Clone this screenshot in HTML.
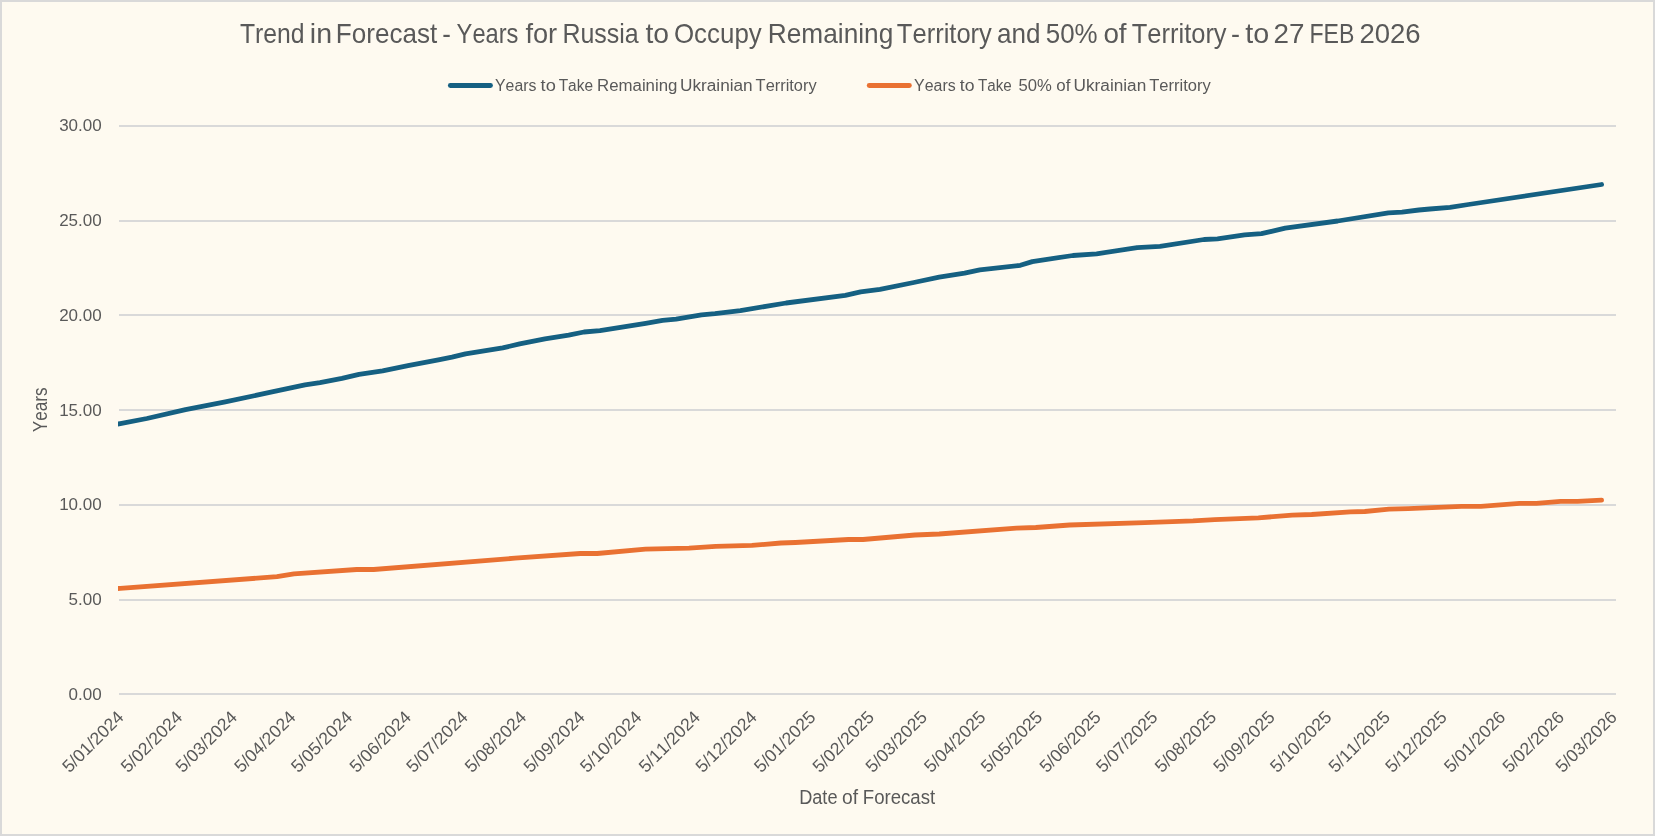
<!DOCTYPE html>
<html><head><meta charset="utf-8"><title>Trend in Forecast</title>
<style>
html,body{margin:0;padding:0;background:#fefaf0;}
body{width:1655px;height:836px;overflow:hidden;font-family:"Liberation Sans",sans-serif;}
svg{display:block;will-change:transform;}
text{font-family:"Liberation Sans",sans-serif;fill:#595959;font-kerning:none;}
</style></head><body>
<svg width="1655" height="836" viewBox="0 0 1655 836">
<rect x="0" y="0" width="1655" height="836" fill="#d9d9d9"/>
<rect x="2" y="2" width="1651" height="832" fill="#fefaf0"/>

<g class="title">
<text x="239.88" y="43.0" font-size="27.4" textLength="64.57" lengthAdjust="spacingAndGlyphs">Trend</text>
<text x="309.89" y="43.0" font-size="27.4" textLength="22.24" lengthAdjust="spacingAndGlyphs">in</text>
<text x="335.87" y="43.0" font-size="27.4" textLength="101.40" lengthAdjust="spacingAndGlyphs">Forecast</text>
<text x="442.17" y="43.0" font-size="27.4" textLength="8.61" lengthAdjust="spacingAndGlyphs">-</text>
<text x="456.60" y="43.0" font-size="27.4" textLength="61.85" lengthAdjust="spacingAndGlyphs">Years</text>
<text x="525.45" y="43.0" font-size="27.4" textLength="31.72" lengthAdjust="spacingAndGlyphs">for</text>
<text x="562.43" y="43.0" font-size="27.4" textLength="76.26" lengthAdjust="spacingAndGlyphs">Russia</text>
<text x="645.53" y="43.0" font-size="27.4" textLength="23.57" lengthAdjust="spacingAndGlyphs">to</text>
<text x="673.97" y="43.0" font-size="27.4" textLength="87.82" lengthAdjust="spacingAndGlyphs">Occupy</text>
<text x="767.83" y="43.0" font-size="27.4" textLength="125.43" lengthAdjust="spacingAndGlyphs">Remaining</text>
<text x="896.86" y="43.0" font-size="27.4" textLength="95.02" lengthAdjust="spacingAndGlyphs">Territory</text>
<text x="997.07" y="43.0" font-size="27.4" textLength="43.49" lengthAdjust="spacingAndGlyphs">and</text>
<text x="1045.74" y="43.0" font-size="27.4" textLength="51.91" lengthAdjust="spacingAndGlyphs">50%</text>
<text x="1103.38" y="43.0" font-size="27.4" textLength="23.20" lengthAdjust="spacingAndGlyphs">of</text>
<text x="1131.80" y="43.0" font-size="27.4" textLength="94.81" lengthAdjust="spacingAndGlyphs">Territory</text>
<text x="1230.99" y="43.0" font-size="27.4" textLength="8.97" lengthAdjust="spacingAndGlyphs">-</text>
<text x="1245.20" y="43.0" font-size="27.4" textLength="23.93" lengthAdjust="spacingAndGlyphs">to</text>
<text x="1273.63" y="43.0" font-size="27.4" textLength="30.93" lengthAdjust="spacingAndGlyphs">27</text>
<text x="1309.43" y="43.0" font-size="27.4" textLength="44.97" lengthAdjust="spacingAndGlyphs">FEB</text>
<text x="1359.41" y="43.0" font-size="27.4" textLength="61.22" lengthAdjust="spacingAndGlyphs">2026</text>
</g>
<g class="leg1">
<text x="495.06" y="90.7" font-size="15.6" textLength="41.36" lengthAdjust="spacingAndGlyphs">Years</text>
<text x="540.63" y="90.7" font-size="15.6" textLength="15.23" lengthAdjust="spacingAndGlyphs">to</text>
<text x="558.70" y="90.7" font-size="15.6" textLength="34.35" lengthAdjust="spacingAndGlyphs">Take</text>
<text x="597.00" y="90.7" font-size="15.6" textLength="80.44" lengthAdjust="spacingAndGlyphs">Remaining</text>
<text x="679.94" y="90.7" font-size="15.6" textLength="72.76" lengthAdjust="spacingAndGlyphs">Ukrainian</text>
<text x="755.63" y="90.7" font-size="15.6" textLength="61.00" lengthAdjust="spacingAndGlyphs">Territory</text>
</g>
<g class="leg2">
<text x="914.05" y="90.7" font-size="15.6" textLength="41.62" lengthAdjust="spacingAndGlyphs">Years</text>
<text x="959.81" y="90.7" font-size="15.6" textLength="14.67" lengthAdjust="spacingAndGlyphs">to</text>
<text x="978.02" y="90.7" font-size="15.6" textLength="33.80" lengthAdjust="spacingAndGlyphs">Take</text>
<text x="1018.46" y="90.7" font-size="15.6" textLength="33.35" lengthAdjust="spacingAndGlyphs">50%</text>
<text x="1056.33" y="90.7" font-size="15.6" textLength="14.09" lengthAdjust="spacingAndGlyphs">of</text>
<text x="1073.54" y="90.7" font-size="15.6" textLength="72.74" lengthAdjust="spacingAndGlyphs">Ukrainian</text>
<text x="1149.17" y="90.7" font-size="15.6" textLength="61.54" lengthAdjust="spacingAndGlyphs">Territory</text>
</g>
<g class="xt">
<text x="799.18" y="803.8" font-size="19.6" textLength="38.34" lengthAdjust="spacingAndGlyphs">Date</text>
<text x="842.10" y="803.8" font-size="19.6" textLength="16.04" lengthAdjust="spacingAndGlyphs">of</text>
<text x="862.78" y="803.8" font-size="19.6" textLength="72.37" lengthAdjust="spacingAndGlyphs">Forecast</text>
</g>
<line x1="450.3" y1="85.5" x2="490.5" y2="85.5" stroke="#156082" stroke-width="4.8" stroke-linecap="round"/>
<line x1="869.2" y1="85.5" x2="909.4" y2="85.5" stroke="#e97132" stroke-width="4.8" stroke-linecap="round"/>
<rect x="119" y="125" width="1497" height="2" fill="#d9d9d9"/>
<rect x="119" y="220" width="1497" height="2" fill="#d9d9d9"/>
<rect x="119" y="314" width="1497" height="2" fill="#d9d9d9"/>
<rect x="119" y="409" width="1497" height="2" fill="#d9d9d9"/>
<rect x="119" y="504" width="1497" height="2" fill="#d9d9d9"/>
<rect x="119" y="599" width="1497" height="2" fill="#d9d9d9"/>
<rect x="119" y="693" width="1497" height="2" fill="#d9d9d9"/>
<text x="101.7" y="131.0" font-size="17.0" text-anchor="end">30.00</text>
<text x="101.7" y="226.0" font-size="17.0" text-anchor="end">25.00</text>
<text x="101.7" y="321.0" font-size="17.0" text-anchor="end">20.00</text>
<text x="101.7" y="416.0" font-size="17.0" text-anchor="end">15.00</text>
<text x="101.7" y="510.0" font-size="17.0" text-anchor="end">10.00</text>
<text x="101.7" y="605.0" font-size="17.0" text-anchor="end">5.00</text>
<text x="101.7" y="700.0" font-size="17.0" text-anchor="end">0.00</text>
<text transform="translate(124.80,718.20) rotate(-45)" font-size="17.6" text-anchor="end">5/01/2024</text>
<text transform="translate(183.39,718.20) rotate(-45)" font-size="17.6" text-anchor="end">5/02/2024</text>
<text transform="translate(238.21,718.20) rotate(-45)" font-size="17.6" text-anchor="end">5/03/2024</text>
<text transform="translate(296.80,718.20) rotate(-45)" font-size="17.6" text-anchor="end">5/04/2024</text>
<text transform="translate(353.51,718.20) rotate(-45)" font-size="17.6" text-anchor="end">5/05/2024</text>
<text transform="translate(412.10,718.20) rotate(-45)" font-size="17.6" text-anchor="end">5/06/2024</text>
<text transform="translate(468.81,718.20) rotate(-45)" font-size="17.6" text-anchor="end">5/07/2024</text>
<text transform="translate(527.40,718.20) rotate(-45)" font-size="17.6" text-anchor="end">5/08/2024</text>
<text transform="translate(586.00,718.20) rotate(-45)" font-size="17.6" text-anchor="end">5/09/2024</text>
<text transform="translate(642.70,718.20) rotate(-45)" font-size="17.6" text-anchor="end">5/10/2024</text>
<text transform="translate(701.30,718.20) rotate(-45)" font-size="17.6" text-anchor="end">5/11/2024</text>
<text transform="translate(758.00,718.20) rotate(-45)" font-size="17.6" text-anchor="end">5/12/2024</text>
<text transform="translate(816.60,718.20) rotate(-45)" font-size="17.6" text-anchor="end">5/01/2025</text>
<text transform="translate(875.19,718.20) rotate(-45)" font-size="17.6" text-anchor="end">5/02/2025</text>
<text transform="translate(928.11,718.20) rotate(-45)" font-size="17.6" text-anchor="end">5/03/2025</text>
<text transform="translate(986.71,718.20) rotate(-45)" font-size="17.6" text-anchor="end">5/04/2025</text>
<text transform="translate(1043.41,718.20) rotate(-45)" font-size="17.6" text-anchor="end">5/05/2025</text>
<text transform="translate(1102.01,718.20) rotate(-45)" font-size="17.6" text-anchor="end">5/06/2025</text>
<text transform="translate(1158.71,718.20) rotate(-45)" font-size="17.6" text-anchor="end">5/07/2025</text>
<text transform="translate(1217.31,718.20) rotate(-45)" font-size="17.6" text-anchor="end">5/08/2025</text>
<text transform="translate(1275.90,718.20) rotate(-45)" font-size="17.6" text-anchor="end">5/09/2025</text>
<text transform="translate(1332.61,718.20) rotate(-45)" font-size="17.6" text-anchor="end">5/10/2025</text>
<text transform="translate(1391.20,718.20) rotate(-45)" font-size="17.6" text-anchor="end">5/11/2025</text>
<text transform="translate(1447.91,718.20) rotate(-45)" font-size="17.6" text-anchor="end">5/12/2025</text>
<text transform="translate(1506.50,718.20) rotate(-45)" font-size="17.6" text-anchor="end">5/01/2026</text>
<text transform="translate(1565.10,718.20) rotate(-45)" font-size="17.6" text-anchor="end">5/02/2026</text>
<text transform="translate(1618.02,718.20) rotate(-45)" font-size="17.6" text-anchor="end">5/03/2026</text>
<text transform="translate(47.4,432.2) rotate(-90)" font-size="20.6" textLength="44.8" lengthAdjust="spacingAndGlyphs">Years</text>
<clipPath id="plot"><rect x="118" y="100" width="1500" height="600"/></clipPath>
<polyline clip-path="url(#plot)" points="115.0,424.6 120.3,423.6 146.9,418.5 185.5,409.6 225.3,401.9 273.2,391.7 305.0,384.9 320.0,382.6 342.0,378.4 359.0,374.3 382.6,370.8 408.0,365.7 438.4,359.8 452.0,357.2 465.5,353.9 502.7,347.9 519.7,343.9 545.0,338.8 568.7,335.2 584.0,332.0 600.0,330.7 645.7,323.3 662.6,320.4 676.1,319.1 701.5,314.8 715.0,313.7 740.4,310.6 786.1,303.0 845.3,295.4 860.6,291.9 880.0,289.3 913.8,282.5 939.2,277.1 964.6,273.2 979.8,269.8 1020.4,265.3 1032.3,261.6 1072.9,255.5 1096.6,253.8 1137.2,247.6 1160.0,246.4 1204.0,239.5 1217.5,238.8 1244.6,234.9 1261.5,233.7 1285.2,228.1 1337.7,221.0 1388.4,212.9 1402.0,212.1 1418.9,210.0 1429.9,209.0 1450.0,207.3 1468.4,204.5 1601.6,184.5" fill="none" stroke="#156082" stroke-width="4.8" stroke-linecap="round" stroke-linejoin="round"/>
<polyline clip-path="url(#plot)" points="115.0,588.7 120.3,588.3 277.0,576.7 293.9,573.8 356.7,569.5 373.6,569.5 515.0,558.2 580.3,553.5 597.2,553.5 645.5,549.2 689.0,548.2 715.6,546.3 751.9,545.4 780.9,543.0 795.4,542.5 848.5,539.5 863.0,539.5 915.0,535.0 939.2,534.0 1016.5,528.2 1035.8,527.5 1069.7,525.0 1144.6,522.6 1193.0,520.9 1214.7,519.6 1258.4,517.9 1292.2,515.1 1311.7,514.5 1350.3,511.8 1364.8,511.5 1389.0,509.2 1408.3,508.7 1461.5,506.3 1480.9,506.3 1519.5,503.4 1536.4,503.4 1560.6,501.4 1577.5,501.3 1601.6,500.2" fill="none" stroke="#e97132" stroke-width="4.8" stroke-linecap="round" stroke-linejoin="round"/>
</svg>
</body></html>
